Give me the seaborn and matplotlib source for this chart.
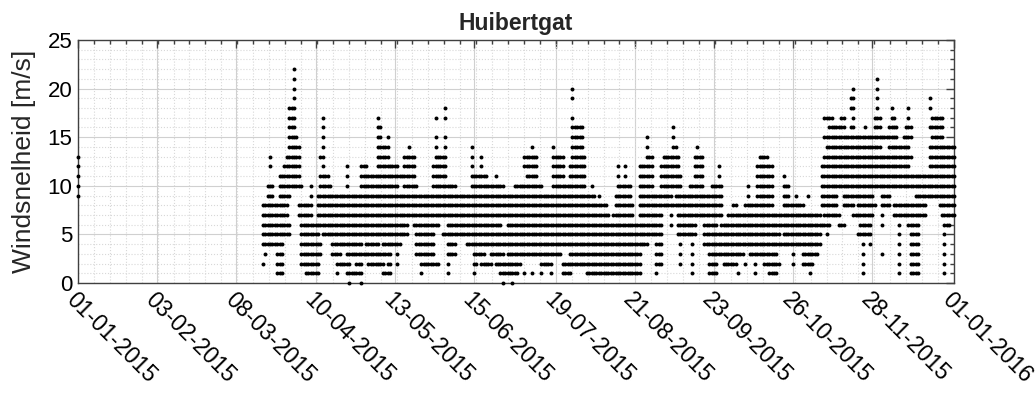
import pandas as pd
import seaborn as sns
from matplotlib import pyplot as plt
from matplotlib.ticker import FixedLocator, MultipleLocator
from matplotlib import dates as mdates

# Huibertgat wind speed 2015.
# For every speed level (m/s): runs of days (day of year from 01-01-2015, first, last)
# on which that speed was recorded.
runs_00 = [(113, 113), (118, 118), (177, 177), (181, 181)]
runs_01 = [(83, 85), (95, 100), (108, 108), (112, 118), (127, 130), (143, 143), (154, 154),
           (165, 165), (176, 183), (186, 186), (189, 189), (193, 193), (197, 197), (202, 205),
           (212, 234), (241, 241), (256, 256), (263, 266), (275, 275), (282, 282), (288, 291),
           (305, 305), (327, 327), (342, 342), (347, 350), (361, 361)]
runs_02 = [(77, 77), (83, 85), (93, 100), (108, 113), (116, 118), (121, 127), (129, 130),
           (133, 133), (143, 150), (154, 154), (165, 166), (168, 172), (174, 184), (193, 197),
           (202, 234), (241, 243), (251, 251), (256, 256), (263, 266), (269, 274), (278, 278),
           (282, 282), (286, 292), (298, 298), (302, 306), (327, 327), (342, 342), (347, 350),
           (361, 361)]
runs_03 = [(78, 78), (83, 85), (93, 101), (106, 109), (112, 130), (133, 133), (141, 148),
           (154, 157), (165, 169), (172, 177), (179, 201), (205, 234), (241, 243), (251, 251),
           (256, 256), (263, 277), (280, 291), (298, 298), (302, 308), (327, 327), (335, 335),
           (342, 342), (347, 350), (361, 361)]
runs_04 = [(77, 85), (93, 101), (106, 118), (120, 125), (127, 134), (141, 148), (154, 157),
           (162, 237), (241, 243), (251, 251), (256, 256), (261, 309), (327, 327), (330, 330),
           (342, 342), (347, 350), (361, 361)]
runs_05 = [(77, 88), (93, 100), (102, 137), (141, 148), (152, 243), (250, 257), (261, 292),
           (294, 309), (312, 312), (325, 330), (342, 342), (347, 350), (361, 361)]
runs_06 = [(77, 88), (93, 137), (140, 150), (154, 176), (179, 243), (247, 247), (250, 257),
           (261, 266), (268, 313), (317, 319), (326, 330), (335, 335), (342, 342), (346, 350),
           (361, 363)]
runs_07 = [(77, 87), (92, 97), (100, 221), (223, 231), (234, 243), (247, 247), (250, 268),
           (271, 309), (311, 317), (323, 331), (335, 335), (340, 353), (360, 365)]
runs_08 = [(77, 87), (92, 97), (100, 220), (224, 231), (234, 268), (273, 274), (278, 289),
           (294, 302), (310, 316), (319, 323), (325, 332), (335, 338), (340, 353), (359, 365)]
runs_09 = [(0, 0), (79, 81), (84, 88), (97, 97), (100, 215), (217, 217), (224, 230),
           (234, 247), (249, 268), (279, 279), (283, 289), (294, 296), (299, 299), (304, 304),
           (310, 316), (319, 331), (335, 338), (349, 365)]
runs_10 = [(0, 0), (79, 81), (84, 93), (97, 97), (101, 105), (112, 112), (118, 133),
           (136, 141), (148, 157), (164, 177), (182, 193), (198, 211), (214, 214), (225, 230),
           (234, 239), (243, 251), (255, 260), (264, 268), (279, 279), (283, 289), (294, 296),
           (310, 365)]
runs_11 = [(0, 0), (84, 92), (101, 104), (112, 112), (118, 140), (148, 153), (164, 170),
           (174, 174), (187, 191), (198, 202), (205, 211), (225, 225), (228, 228), (234, 239),
           (243, 251), (257, 260), (267, 267), (283, 289), (294, 294), (310, 365)]
runs_12 = [(0, 0), (80, 80), (86, 92), (102, 102), (112, 112), (118, 120), (125, 133),
           (136, 140), (148, 153), (164, 164), (168, 168), (186, 191), (198, 202), (205, 211),
           (225, 225), (228, 228), (234, 239), (243, 250), (257, 260), (267, 267), (283, 289),
           (310, 346), (355, 365)]
runs_13 = [(0, 0), (80, 80), (87, 92), (101, 102), (125, 129), (136, 140), (149, 153),
           (164, 164), (168, 168), (186, 191), (198, 202), (206, 211), (237, 239), (244, 250),
           (257, 260), (284, 287), (311, 347), (355, 365)]
runs_14 = [(88, 92), (102, 102), (125, 129), (138, 138), (149, 149), (153, 153), (164, 164),
           (189, 189), (198, 198), (206, 210), (237, 237), (248, 249), (258, 258), (312, 334),
           (338, 346), (355, 365)]
runs_15 = [(88, 91), (102, 102), (125, 126), (129, 129), (149, 149), (153, 153), (206, 210),
           (237, 237), (248, 248), (311, 341), (344, 347), (356, 360)]
runs_16 = [(88, 90), (102, 102), (125, 126), (206, 210), (248, 248), (313, 319), (322, 323),
           (328, 328), (332, 334), (338, 341), (345, 347), (355, 360)]
runs_17 = [(88, 90), (102, 102), (125, 125), (149, 149), (153, 153), (206, 206), (311, 314),
           (318, 319), (323, 323), (332, 334), (339, 340), (346, 346), (356, 360)]
runs_18 = [(88, 90), (153, 153), (322, 323), (333, 333), (339, 339), (346, 346), (355, 355)]
runs_19 = [(90, 90), (206, 206), (322, 323), (333, 333), (355, 355)]
runs_20 = [(90, 90), (206, 206), (323, 323), (333, 333)]
runs_21 = [(90, 90), (333, 333)]
runs_22 = [(90, 90)]

speed_runs = [runs_00, runs_01, runs_02, runs_03, runs_04, runs_05, runs_06, runs_07,
              runs_08, runs_09, runs_10, runs_11, runs_12, runs_13, runs_14, runs_15,
              runs_16, runs_17, runs_18, runs_19, runs_20, runs_21, runs_22]

tick_labels = ['01-01-2015', '03-02-2015', '08-03-2015', '10-04-2015', '13-05-2015',
               '15-06-2015', '19-07-2015', '21-08-2015', '23-09-2015', '26-10-2015',
               '28-11-2015', '01-01-2016']

start = pd.Timestamp('2015-01-01')
end = pd.Timestamp('2016-01-01')

rows = []
for speed, runs in enumerate(speed_runs):
    for d0, d1 in runs:
        for d in range(d0, d1 + 1):
            rows.append((start + pd.Timedelta(days=d), speed))
frame = pd.DataFrame(rows, columns=['datum', 'windsnelheid'])

sns.set_style("white")
plt.rcParams['font.family'] = ['Liberation Sans', 'DejaVu Sans']

fig = plt.figure(figsize=(10.36, 3.94), dpi=100)
ax = fig.add_axes([0.0753, 0.2817, 0.8455, 0.6168])

sns.scatterplot(data=frame, x='datum', y='windsnelheid', color='black',
                s=8, linewidth=0, edgecolor=None, ax=ax, zorder=3, clip_on=False)

ax.set_xlim(start, end)
ax.set_ylim(0, 25)

major = pd.to_datetime(tick_labels, format='%d-%m-%Y')
ax.set_xticks(major)
ax.set_xticklabels(tick_labels, rotation=-45, ha='left', va='top',
                   rotation_mode='anchor', fontsize=16.5)
minor = mdates.date2num(pd.date_range(start, end, periods=56))
ax.xaxis.set_minor_locator(FixedLocator(minor))
ax.yaxis.set_major_locator(MultipleLocator(5))
ax.yaxis.set_minor_locator(MultipleLocator(1))
ax.tick_params(axis='y', labelsize=16)

ax.tick_params(which='both', direction='in', top=True, right=True,
               colors='#404040', labelcolor='black', width=1)
ax.tick_params(which='major', length=6, pad=4)
ax.tick_params(which='minor', length=3)

ax.grid(which='major', color='#d0d0d0', linestyle='-', linewidth=0.8)
ax.grid(which='minor', color='#d8d8d8', linestyle=':', linewidth=0.8)
ax.set_axisbelow(True)
for s in ax.spines.values():
    s.set_color('#404040')
    s.set_linewidth(1)

ax.set_xlabel('')
ax.set_ylabel('Windsnelheid [m/s]', fontsize=19, labelpad=8)
ax.set_title('Huibertgat', fontsize=16.5, fontweight='bold', pad=7)

plt.savefig('out.png', dpi=100)
